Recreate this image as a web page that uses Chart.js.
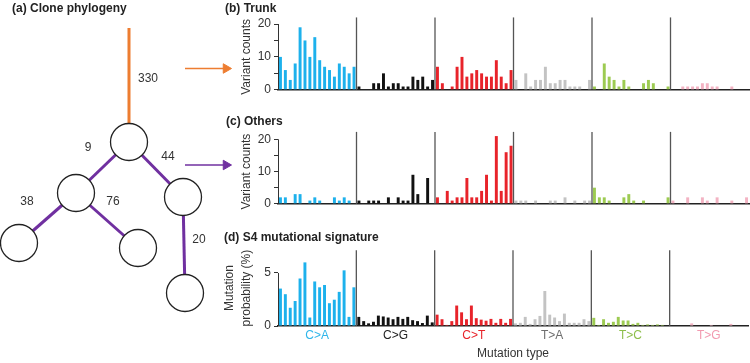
<!DOCTYPE html>
<html>
<head>
<meta charset="utf-8">
<script src="https://cdn.jsdelivr.net/npm/chart.js@4"></script>
<style>
  body { margin: 0; background: #fff; }
  #wrap { position: relative; width: 750px; height: 363px; overflow: hidden; font-family: "Liberation Sans", Arial, sans-serif; }
  canvas { position: absolute; }
  .ttl { position: absolute; font-weight: bold; font-size: 12px; line-height: 14px; color: #222; white-space: nowrap; }
</style>
</head>
<body>
<div id="wrap">
  <canvas id="trunk" width="550" height="100" style="left:200px;top:0px"></canvas>
  <canvas id="others" width="550" height="102" style="left:200px;top:112px"></canvas>
  <canvas id="sig" width="550" height="123" style="left:200px;top:240px"></canvas>
  <canvas id="tree" width="240" height="363" style="left:0px;top:0px"></canvas>
  <div class="ttl" style="left:12px;top:1px">(a) Clone phylogeny</div>
  <div class="ttl" style="left:225px;top:1px">(b) Trunk</div>
  <div class="ttl" style="left:226px;top:114px">(c) Others</div>
  <div class="ttl" style="left:224px;top:230px">(d) S4 mutational signature</div>
</div>
<script>
Chart.defaults.font.family = '"Liberation Sans", Arial, sans-serif';
Chart.defaults.font.size = 12;
Chart.defaults.color = '#333';

// mutation types and their colours
const types = ['C>A', 'C>G', 'C>T', 'T>A', 'T>C', 'T>G'];
const typeColors = ['#1DB1EC', '#111111', '#E8232A', '#C3C3C3', '#9DCB52', '#F3B3C3'];
const typeLabelColors = ['#2FB6EA', '#222222', '#E8232A', '#6E6E6E', '#8DBE4A', '#F29AB0'];
const bases = ['A', 'C', 'G', 'T'];
const contexts = types.flatMap(t => bases.flatMap(a => bases.map(b => a + '[' + t + ']' + b)));

// (b) trunk variant counts
const trunkCA = [10, 6, 3, 8, 19, 15, 10, 16, 9, 7, 6, 4, 8, 7, 5, 7];
const trunkCG = [1, 0, 0, 2, 2, 5, 1, 2, 2, 1, 1, 4, 3, 4, 1, 3];
const trunkCT = [7, 2, 0, 1, 7, 10, 4, 5, 6, 5, 4, 4, 9, 4, 2, 6];
const trunkTA = [3, 0, 5, 1, 3, 3, 7, 2, 2, 3, 3, 1, 1, 1, 0, 3];
const trunkTC = [1, 0, 8, 4, 3, 1, 3, 1, 0, 0, 2, 3, 2, 0, 0, 1];
const trunkTG = [0, 0, 1, 1, 1, 1, 2, 2, 1, 1, 0, 0, 1, 0, 0, 0];

// (c) other clones variant counts
const othersCA = [2, 2, 0, 3, 3, 0, 1, 2, 1, 0, 0, 2, 1, 2, 1, 0];
const othersCG = [1, 0, 1, 1, 1, 0, 2, 0, 2, 1, 1, 9, 3, 0, 8, 0];
const othersCT = [2, 0, 4, 1, 2, 2, 8, 2, 2, 4, 9, 1, 21, 4, 16, 18];
const othersTA = [1, 1, 1, 0, 1, 0, 0, 1, 1, 0, 2, 0, 1, 0, 1, 1];
const othersTC = [5, 2, 2, 1, 0, 0, 2, 3, 1, 0, 1, 0, 0, 0, 0, 2];
const othersTG = [1, 0, 0, 2, 0, 0, 2, 1, 0, 2, 0, 0, 1, 0, 0, 2];

// (d) S4 signature, mutation probability (%)
const sigCA = [3.53, 3.0, 1.72, 2.36, 4.48, 6.0, 0.8, 4.2, 3.65, 3.87, 2.15, 2.48, 3.22, 5.25, 0.86, 3.65];
const sigCG = [0.86, 0.46, 0.25, 0.4, 0.98, 0.9, 0.8, 0.64, 0.86, 0.67, 0.86, 0.55, 0.46, 0.28, 0.98, 0.34];
const sigCT = [1.07, 0.64, 0.1, 0.46, 1.93, 1.29, 0.64, 1.93, 0.74, 0.6, 0.5, 0.67, 0.3, 0.67, 0.3, 0.67];
const sigTA = [0.25, 0.3, 0.86, 0.2, 0.64, 0.95, 3.3, 1.07, 0.8, 0.46, 1.17, 0.3, 0.3, 0.3, 0.64, 0.46];
const sigTC = [0.77, 0.1, 0.64, 0.3, 0.4, 0.86, 0.52, 0.52, 0.2, 0.3, 0.1, 0.15, 0.1, 0.15, 0.1, 0.05];
const sigTG = [0, 0, 0, 0, 0.25, 0, 0, 0, 0.1, 0, 0, 0, 0.2, 0, 0, 0];

// (a) clone tree: node layout positions, edges and branch counts
const nodeX = [129, 76, 183, 19, 138, 185];
const nodeY = [142, 193, 197, 243, 248, 293];
const trunkStart = { x: 129, y: 28 };
const edgePairs = [[0, 1], [0, 2], [1, 3], [1, 4], [2, 5]];
const branchLabels = ['330', '9', '44', '38', '76', '20'];
const branchLabelX = [148, 88, 168, 27, 113, 199];
const branchLabelY = [79, 148, 157, 202, 202, 240];
const arrowY = [68.5, 165];
const arrowX = [185, 226];
const arrowColors = ['#ED7D31', '#7030A0'];

const panelDecor = {
  id: 'panelDecor',
  afterDatasetsDraw(chart, args, o) {
    const { ctx, scales: { x, y } } = chart;
    const y0 = y.getPixelForValue(0);
    ctx.save();
    ctx.strokeStyle = '#333';
    ctx.lineWidth = 1;
    ctx.beginPath();
    ctx.moveTo(x.left + 0.5, y0);
    ctx.lineTo(x.left + 0.5, y.getPixelForValue(o.axisTop));
    ctx.stroke();
    ctx.strokeStyle = '#555';
    ctx.lineWidth = 1.3;
    for (let k = 1; k < types.length; k++) {
      const i = k * 16;
      const sx = (x.getPixelForValue(i - 1) + x.getPixelForValue(i)) / 2;
      ctx.beginPath();
      ctx.moveTo(sx, y0);
      ctx.lineTo(sx, y.getPixelForValue(o.sepTop));
      ctx.stroke();
    }
    if (o.typeLabels) {
      ctx.font = '12px "Liberation Sans", Arial, sans-serif';
      ctx.textAlign = 'center';
      ctx.textBaseline = 'middle';
      types.forEach((t, k) => {
        const cx = (x.getPixelForValue(k * 16 + 7) + x.getPixelForValue(k * 16 + 8)) / 2;
        ctx.fillStyle = typeLabelColors[k];
        ctx.fillText(t, cx, y0 + 10);
      });
    }
    ctx.restore();
  }
};

function barPanel(id, values, cfg) {
  return new Chart(document.getElementById(id), {
    type: 'bar',
    data: {
      labels: contexts,
      datasets: [{
        data: values,
        backgroundColor: values.map((v, i) => typeColors[Math.floor(i / 16)]),
        barPercentage: 0.6,
        categoryPercentage: 1,
        clip: false
      }]
    },
    plugins: [panelDecor],
    options: {
      responsive: false,
      animation: false,
      devicePixelRatio: 1,
      layout: { padding: cfg.padding },
      plugins: {
        legend: { display: false },
        tooltip: { enabled: false },
        panelDecor: { axisTop: cfg.axisTop, sepTop: cfg.sepTop, typeLabels: cfg.typeLabels }
      },
      scales: {
        x: {
          grid: { display: false },
          ticks: { display: false },
          border: { display: true, color: '#222', width: 1.6 },
          title: cfg.xTitle ? { display: true, text: cfg.xTitle, font: { size: 12 }, color: '#333', padding: { top: 0, bottom: 1.8 } } : { display: false },
          afterFit: (s) => { s.height = cfg.xHeight; }
        },
        y: {
          min: 0,
          max: cfg.max,
          ticks: {
            stepSize: 5,
            padding: 3,
            color: '#333',
            callback: (v) => (v % cfg.labelStep === 0 ? v : '')
          },
          afterBuildTicks: (s) => { s.ticks = s.ticks.filter(t => t.value <= cfg.axisTop + 1e-9); },
          grid: { drawOnChartArea: false, drawTicks: true, tickLength: 4, color: '#333' },
          border: { display: false },
          title: { display: true, text: cfg.yTitle, font: { size: 12, lineHeight: 1.4 }, color: '#333', padding: { top: cfg.titlePad, bottom: 0 } },
          afterFit: (s) => { s.width = 78; }
        }
      }
    }
  });
}

barPanel('trunk', [...trunkCA, ...trunkCG, ...trunkCT, ...trunkTA, ...trunkTC, ...trunkTG], {
  padding: { top: 24, bottom: 4, left: 0, right: 1 },
  max: 20, axisTop: 20, sepTop: 22, labelStep: 10, xHeight: 0,
  yTitle: 'Variant counts', titlePad: 38.6, typeLabels: false
});

barPanel('others', [...othersCA, ...othersCG, ...othersCT, ...othersTA, ...othersTC, ...othersTG], {
  padding: { top: 27.3, bottom: 3.7, left: 0, right: 1 },
  max: 20, axisTop: 20, sepTop: 22.3, labelStep: 10, xHeight: 0,
  yTitle: 'Variant counts', titlePad: 38.6, typeLabels: false
});

barPanel('sig', [...sigCA, ...sigCG, ...sigCT, ...sigTA, ...sigTC, ...sigTG], {
  padding: { top: 8, bottom: 0, left: 0, right: 2 },
  max: 7.15, axisTop: 5, sepTop: 7.15, labelStep: 5, xHeight: 37,
  yTitle: ['Mutation', 'probability (%)'], titlePad: 21.6, typeLabels: true,
  xTitle: 'Mutation type'
});

// tree diagram
const nodes = nodeX.map((x, i) => ({ x: x, y: nodeY[i] }));
const treeDatasets = [{
  data: nodes,
  pointRadius: 18.5,
  pointBackgroundColor: '#fff',
  pointBorderColor: '#222',
  pointBorderWidth: 1.3,
  showLine: false,
  order: 0,
  clip: false
}, {
  data: [trunkStart, nodes[0]],
  showLine: true,
  borderColor: '#ED7D31',
  borderWidth: 3,
  pointRadius: 0,
  order: 1,
  clip: false
}];
edgePairs.forEach(([a, b]) => {
  treeDatasets.push({
    data: [nodes[a], nodes[b]],
    showLine: true,
    borderColor: '#7030A0',
    borderWidth: 3,
    pointRadius: 0,
    order: 1,
    clip: false
  });
});
arrowY.forEach((ay, i) => {
  treeDatasets.push({
    data: arrowX.map(ax => ({ x: ax, y: ay })),
    showLine: true,
    borderColor: arrowColors[i],
    borderWidth: 1.5,
    pointRadius: [0, 5.5],
    pointStyle: 'triangle',
    rotation: 90,
    pointBackgroundColor: arrowColors[i],
    pointBorderColor: arrowColors[i],
    pointBorderWidth: 1,
    order: 2,
    clip: false
  });
});

const branchText = {
  id: 'branchText',
  afterDatasetsDraw(chart) {
    const { ctx, scales: { x, y } } = chart;
    ctx.save();
    ctx.font = '12px "Liberation Sans", Arial, sans-serif';
    ctx.fillStyle = '#333';
    ctx.textAlign = 'center';
    ctx.textBaseline = 'middle';
    branchLabels.forEach((t, i) => {
      ctx.fillText(t, x.getPixelForValue(branchLabelX[i]), y.getPixelForValue(branchLabelY[i]));
    });
    ctx.restore();
  }
};

new Chart(document.getElementById('tree'), {
  type: 'scatter',
  data: { datasets: treeDatasets },
  plugins: [branchText],
  options: {
    responsive: false,
    animation: false,
    devicePixelRatio: 1,
    layout: { padding: 0, autoPadding: false },
    plugins: { legend: { display: false }, tooltip: { enabled: false } },
    scales: {
      x: { type: 'linear', min: 0, max: 240, display: false },
      y: { type: 'linear', min: 0, max: 363, reverse: true, display: false }
    }
  }
});
</script>
</body>
</html>
